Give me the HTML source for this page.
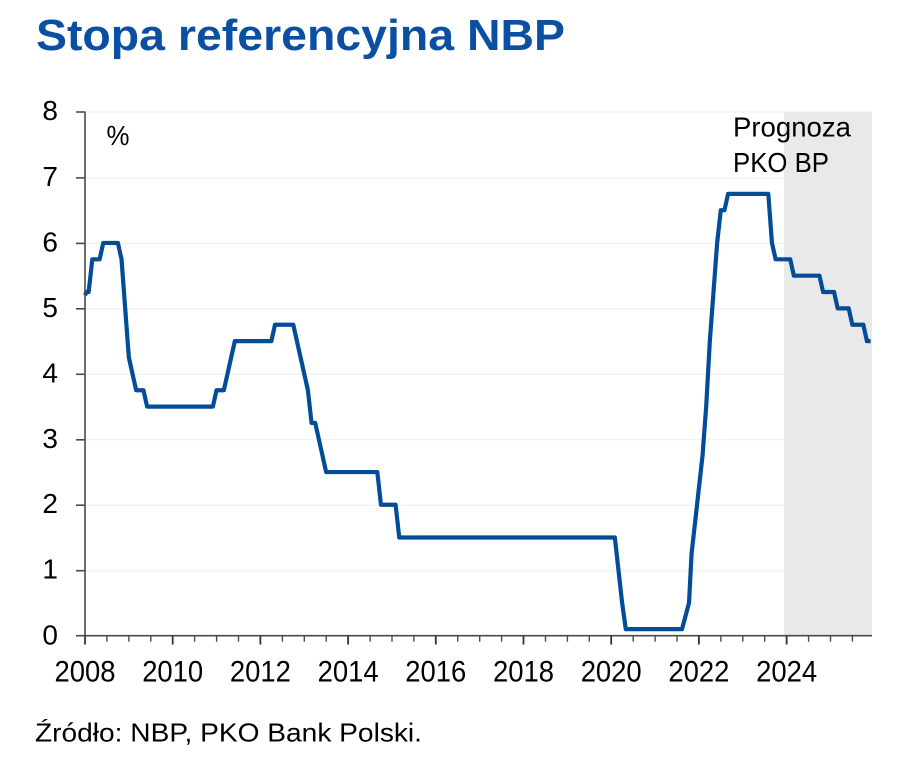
<!DOCTYPE html>
<html>
<head>
<meta charset="utf-8">
<style>
  html, body { margin:0; padding:0; background:#ffffff; }
  body { width:914px; height:763px; overflow:hidden; }
  svg { display:block; }
  text { font-family: "Liberation Sans", "DejaVu Sans", sans-serif; }
</style>
</head>
<body>
<svg width="914" height="763" viewBox="0 0 914 763" xmlns="http://www.w3.org/2000/svg">
  <rect x="0" y="0" width="914" height="763" fill="#ffffff"/>

  <!-- Title -->
  <text x="36" y="50" font-size="44" font-weight="bold" fill="#0b4fa2" textLength="529" lengthAdjust="spacingAndGlyphs">Stopa referencyjna NBP</text>

  <!-- Forecast shading -->
  <rect x="784" y="112" width="88" height="524" fill="#e9e9e9"/>

  <!-- Gridlines -->
  <g stroke="#eeeeee" stroke-width="1">
    <line x1="86" y1="112" x2="872" y2="112"/>
    <line x1="86" y1="177.9" x2="872" y2="177.9"/>
    <line x1="86" y1="243.4" x2="872" y2="243.4"/>
    <line x1="86" y1="308.8" x2="872" y2="308.8"/>
    <line x1="86" y1="374.3" x2="872" y2="374.3"/>
    <line x1="86" y1="439.8" x2="872" y2="439.8"/>
    <line x1="86" y1="505.2" x2="872" y2="505.2"/>
    <line x1="86" y1="570.7" x2="872" y2="570.7"/>
  </g>

  <!-- Series -->
  <polyline fill="none" stroke="#034d98" stroke-width="4.2" stroke-linejoin="round" stroke-linecap="butt"
    points="85,295.3 86.5,292.03 88.65,292.03 92.31,259.3 99.62,259.3 103.27,242.94 117.89,242.94 121.54,259.3 125.19,308.4 128.85,357.49 132.5,373.86 136.16,390.22 143.46,390.22 147.12,406.59 212.89,406.59 216.54,390.22 223.85,390.22 227.51,373.86 231.16,357.49 234.81,341.13 271.35,341.13 275.01,324.76 293.28,324.76 296.93,341.13 300.59,357.49 304.24,373.86 307.89,390.22 311.55,422.95 315.2,422.95 318.86,439.32 322.51,455.68 326.16,472.05 377.32,472.05 380.97,504.78 395.59,504.78 399.24,537.51 614.83,537.51 618.48,570.24 622.14,602.97 625.79,629.15 682,629.15 689,602.97 691.56,553.87 695.22,521.14 698.87,488.41 702.53,455.68 706.18,406.59 709.83,341.13 713.49,292.03 717.14,242.94 720.8,210.21 724.45,210.21 728.1,193.84 768.3,193.84 771.95,242.94 775.61,259.3 790.22,259.3 793.88,275.67 819.45,275.67 823.11,292.03 834.07,292.03 837.72,308.4 848.69,308.4 852.34,324.76 863.3,324.76 866.96,341.13 870.61,341.13"/>

  <!-- Axes -->
  <g stroke="#4a4a4a" stroke-width="1.6" fill="none">
    <line x1="85" y1="111.5" x2="85" y2="636.5"/>
    <line x1="76" y1="635.7" x2="872" y2="635.7"/>
    <line x1="76" y1="112" x2="85" y2="112"/>
    <line x1="76" y1="177.9" x2="85" y2="177.9"/>
    <line x1="76" y1="243.4" x2="85" y2="243.4"/>
    <line x1="76" y1="308.8" x2="85" y2="308.8"/>
    <line x1="76" y1="374.3" x2="85" y2="374.3"/>
    <line x1="76" y1="439.8" x2="85" y2="439.8"/>
    <line x1="76" y1="505.2" x2="85" y2="505.2"/>
    <line x1="76" y1="570.7" x2="85" y2="570.7"/>
  </g>
  <!-- x ticks: minor -->
  <g stroke="#4a4a4a" stroke-width="1.4">
    <line x1="106.9" y1="635.7" x2="106.9" y2="641.7"/>
    <line x1="128.9" y1="635.7" x2="128.9" y2="641.7"/>
    <line x1="150.8" y1="635.7" x2="150.8" y2="641.7"/>
    <line x1="194.6" y1="635.7" x2="194.6" y2="641.7"/>
    <line x1="216.6" y1="635.7" x2="216.6" y2="641.7"/>
    <line x1="238.5" y1="635.7" x2="238.5" y2="641.7"/>
    <line x1="282.4" y1="635.7" x2="282.4" y2="641.7"/>
    <line x1="304.3" y1="635.7" x2="304.3" y2="641.7"/>
    <line x1="326.2" y1="635.7" x2="326.2" y2="641.7"/>
    <line x1="370.1" y1="635.7" x2="370.1" y2="641.7"/>
    <line x1="392.0" y1="635.7" x2="392.0" y2="641.7"/>
    <line x1="413.9" y1="635.7" x2="413.9" y2="641.7"/>
    <line x1="457.7" y1="635.7" x2="457.7" y2="641.7"/>
    <line x1="479.7" y1="635.7" x2="479.7" y2="641.7"/>
    <line x1="501.6" y1="635.7" x2="501.6" y2="641.7"/>
    <line x1="545.5" y1="635.7" x2="545.5" y2="641.7"/>
    <line x1="567.4" y1="635.7" x2="567.4" y2="641.7"/>
    <line x1="589.3" y1="635.7" x2="589.3" y2="641.7"/>
    <line x1="633.2" y1="635.7" x2="633.2" y2="641.7"/>
    <line x1="655.1" y1="635.7" x2="655.1" y2="641.7"/>
    <line x1="677.0" y1="635.7" x2="677.0" y2="641.7"/>
    <line x1="720.9" y1="635.7" x2="720.9" y2="641.7"/>
    <line x1="742.8" y1="635.7" x2="742.8" y2="641.7"/>
    <line x1="764.7" y1="635.7" x2="764.7" y2="641.7"/>
    <line x1="808.6" y1="635.7" x2="808.6" y2="641.7"/>
    <line x1="830.5" y1="635.7" x2="830.5" y2="641.7"/>
    <line x1="852.4" y1="635.7" x2="852.4" y2="641.7"/>
  </g>
  <!-- x ticks: major -->
  <g stroke="#333333" stroke-width="1.8">
    <line x1="85" y1="635.7" x2="85" y2="644.5"/>
    <line x1="172.7" y1="635.7" x2="172.7" y2="644.5"/>
    <line x1="260.4" y1="635.7" x2="260.4" y2="644.5"/>
    <line x1="348.1" y1="635.7" x2="348.1" y2="644.5"/>
    <line x1="435.8" y1="635.7" x2="435.8" y2="644.5"/>
    <line x1="523.5" y1="635.7" x2="523.5" y2="644.5"/>
    <line x1="611.2" y1="635.7" x2="611.2" y2="644.5"/>
    <line x1="698.9" y1="635.7" x2="698.9" y2="644.5"/>
    <line x1="786.6" y1="635.7" x2="786.6" y2="644.5"/>
  </g>

  <!-- Y labels -->
  <g font-size="28" fill="#000000" text-anchor="end">
    <text x="58" y="120">8</text>
    <text x="58" y="186">7</text>
    <text x="58" y="251.4">6</text>
    <text x="58" y="316.8">5</text>
    <text x="58" y="382.3">4</text>
    <text x="58" y="447.8">3</text>
    <text x="58" y="513.2">2</text>
    <text x="58" y="578.7">1</text>
    <text x="58" y="644.7">0</text>
  </g>

  <!-- X labels -->
  <g font-size="30" fill="#000000">
    <text x="54.5" y="681.7" textLength="61" lengthAdjust="spacingAndGlyphs">2008</text>
    <text x="142.2" y="681.7" textLength="61" lengthAdjust="spacingAndGlyphs">2010</text>
    <text x="229.9" y="681.7" textLength="61" lengthAdjust="spacingAndGlyphs">2012</text>
    <text x="317.6" y="681.7" textLength="61" lengthAdjust="spacingAndGlyphs">2014</text>
    <text x="405.3" y="681.7" textLength="61" lengthAdjust="spacingAndGlyphs">2016</text>
    <text x="493.0" y="681.7" textLength="61" lengthAdjust="spacingAndGlyphs">2018</text>
    <text x="580.7" y="681.7" textLength="61" lengthAdjust="spacingAndGlyphs">2020</text>
    <text x="668.4" y="681.7" textLength="61" lengthAdjust="spacingAndGlyphs">2022</text>
    <text x="756.1" y="681.7" textLength="61" lengthAdjust="spacingAndGlyphs">2024</text>
  </g>

  <!-- Unit -->
  <text x="106.5" y="145" font-size="28" fill="#000000" textLength="23" lengthAdjust="spacingAndGlyphs">%</text>

  <!-- Forecast label -->
  <text x="733" y="136.5" font-size="28" fill="#000000" textLength="118" lengthAdjust="spacingAndGlyphs">Prognoza</text>
  <text x="733" y="172" font-size="28" fill="#000000" textLength="96" lengthAdjust="spacingAndGlyphs">PKO BP</text>

  <!-- Source -->
  <text x="35" y="741.7" font-size="26" fill="#000000" textLength="387" lengthAdjust="spacingAndGlyphs">Źródło: NBP, PKO Bank Polski.</text>
</svg>
</body>
</html>
